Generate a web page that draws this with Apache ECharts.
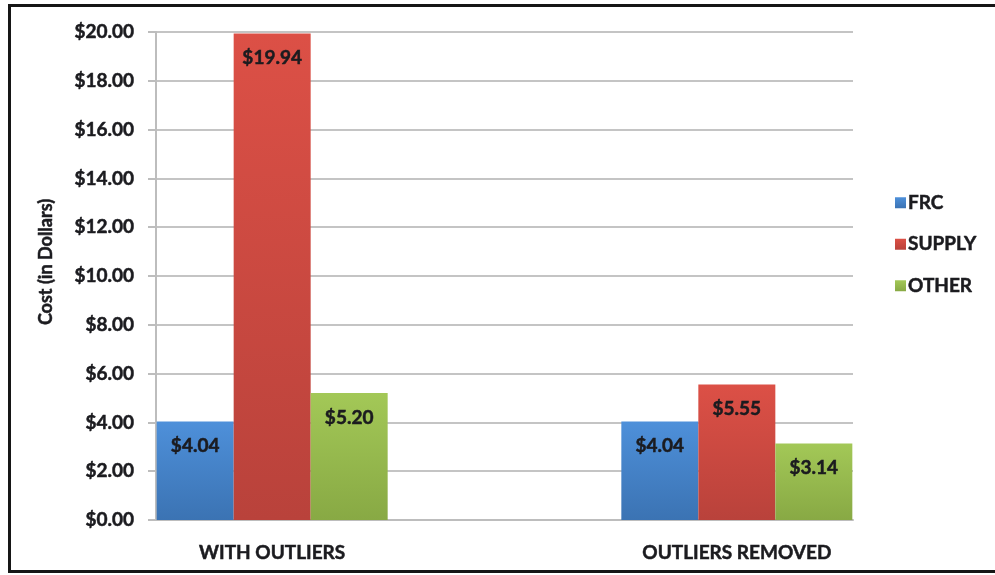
<!DOCTYPE html>
<html>
<head>
	<meta charset="utf-8">
	<title>Cost per category</title>
	<style type="text/css">
		html, body { margin: 0; padding: 0; background: #fff; }
		#chart { width: 995px; height: 575px; }
	</style>
</head>
<body>
	<div id="chart"></div>
	<script src="https://cdn.jsdelivr.net/npm/echarts@6.0.0/dist/echarts.min.js"></script>
	<script type="text/javascript">
	const CATEGORIES = ['WITH OUTLIERS', 'OUTLIERS REMOVED'];
	const FRC = [4.04, 4.04];
	const SUPPLY = [19.94, 5.55];
	const OTHER = [5.20, 3.14];
	const Y_TICKS = [0, 2, 4, 6, 8, 10, 12, 14, 16, 18, 20];

	const FONT = 'Lato, "Open Sans", sans-serif';
	const INK = '#1b1b1f';

	// Excel puts the two groups at 1/6 and 5/6 of the plot width,
	// so lay them on a 7 slot axis with blank slots between
	const SLOT_OF = [1, 5];
	const slots = ['', '', '', '', '', '', ''];
	CATEGORIES.forEach((c, i) => { slots[SLOT_OF[i]] = c; });

	function toSlots(values) {
		let out = slots.map(() => '-');
		values.forEach((v, i) => { out[SLOT_OF[i]] = v; });
		return out;
	}

	function grad(top, bottom) {
		return new echarts.graphic.LinearGradient(0, 0, 0, 1, [
			{ offset: 0, color: top },
			{ offset: 1, color: bottom }
		]);
	}

	// bold plus a thin stroke, closer to the Calibri bold of the original
	function txt(size) {
		return {
			fontFamily: FONT,
			fontWeight: 'bold',
			fontSize: size,
			color: INK,
			textBorderColor: INK,
			textBorderWidth: 0.5
		};
	}

	function makeSeries(name, values, top, bottom) {
		return {
			name: name,
			type: 'bar',
			data: toSlots(values),
			barWidth: 77,
			barGap: '0%',
			itemStyle: { color: grad(top, bottom) },
			label: Object.assign({
				show: true,
				position: 'insideTop',
				distance: 15,
				formatter: p => '$' + Number(p.value).toFixed(2)
			}, txt(19))
		};
	}

	var myChart = echarts.init(document.getElementById('chart'));

	var option = {
		animation: false,
		backgroundColor: '#fff',
		graphic: [{
			type: 'rect',
			shape: { x: 9.5, y: 5.5, width: 1000, height: 566 },
			style: { fill: 'none', stroke: '#161616', lineWidth: 3 },
			silent: true
		}],
		grid: { left: 156, right: 142, top: 32, bottom: 55 },
		legend: {
			orient: 'vertical',
			left: 890,
			top: 188,
			itemWidth: 11,
			itemHeight: 11,
			itemGap: 22,
			icon: 'rect',
			textStyle: Object.assign({ padding: [0, 0, 0, -3] }, txt(19)),
			data: ['FRC', 'SUPPLY', 'OTHER']
		},
		xAxis: {
			type: 'category',
			data: slots,
			boundaryGap: false,
			axisLine: { show: true, lineStyle: { color: '#bdbdbd', width: 2 } },
			axisTick: { show: false },
			splitLine: { show: false },
			axisLabel: Object.assign({ interval: 0, margin: 23 }, txt(19))
		},
		yAxis: {
			type: 'value',
			min: Y_TICKS[0],
			max: Y_TICKS[Y_TICKS.length - 1],
			interval: Y_TICKS[1] - Y_TICKS[0],
			name: 'Cost (in Dollars)',
			nameLocation: 'middle',
			nameGap: 101,
			nameTextStyle: Object.assign({ padding: [0, 0, 0, 28] }, txt(18)),
			axisLine: { show: true, lineStyle: { color: '#bdbdbd', width: 2 } },
			axisTick: { show: true, length: 8, lineStyle: { color: '#bdbdbd', width: 2 } },
			splitLine: { show: true, lineStyle: { color: '#c4c4c4', width: 2 } },
			axisLabel: Object.assign({
				margin: 22,
				formatter: v => '$' + v.toFixed(2)
			}, txt(19))
		},
		series: [
			makeSeries('FRC', FRC, '#4e90da', '#3b73b3'),
			makeSeries('SUPPLY', SUPPLY, '#dc5046', '#b9423b'),
			makeSeries('OTHER', OTHER, '#a3c857', '#88a944')
		]
	};

	myChart.setOption(option);
	</script>
</body>
</html>
